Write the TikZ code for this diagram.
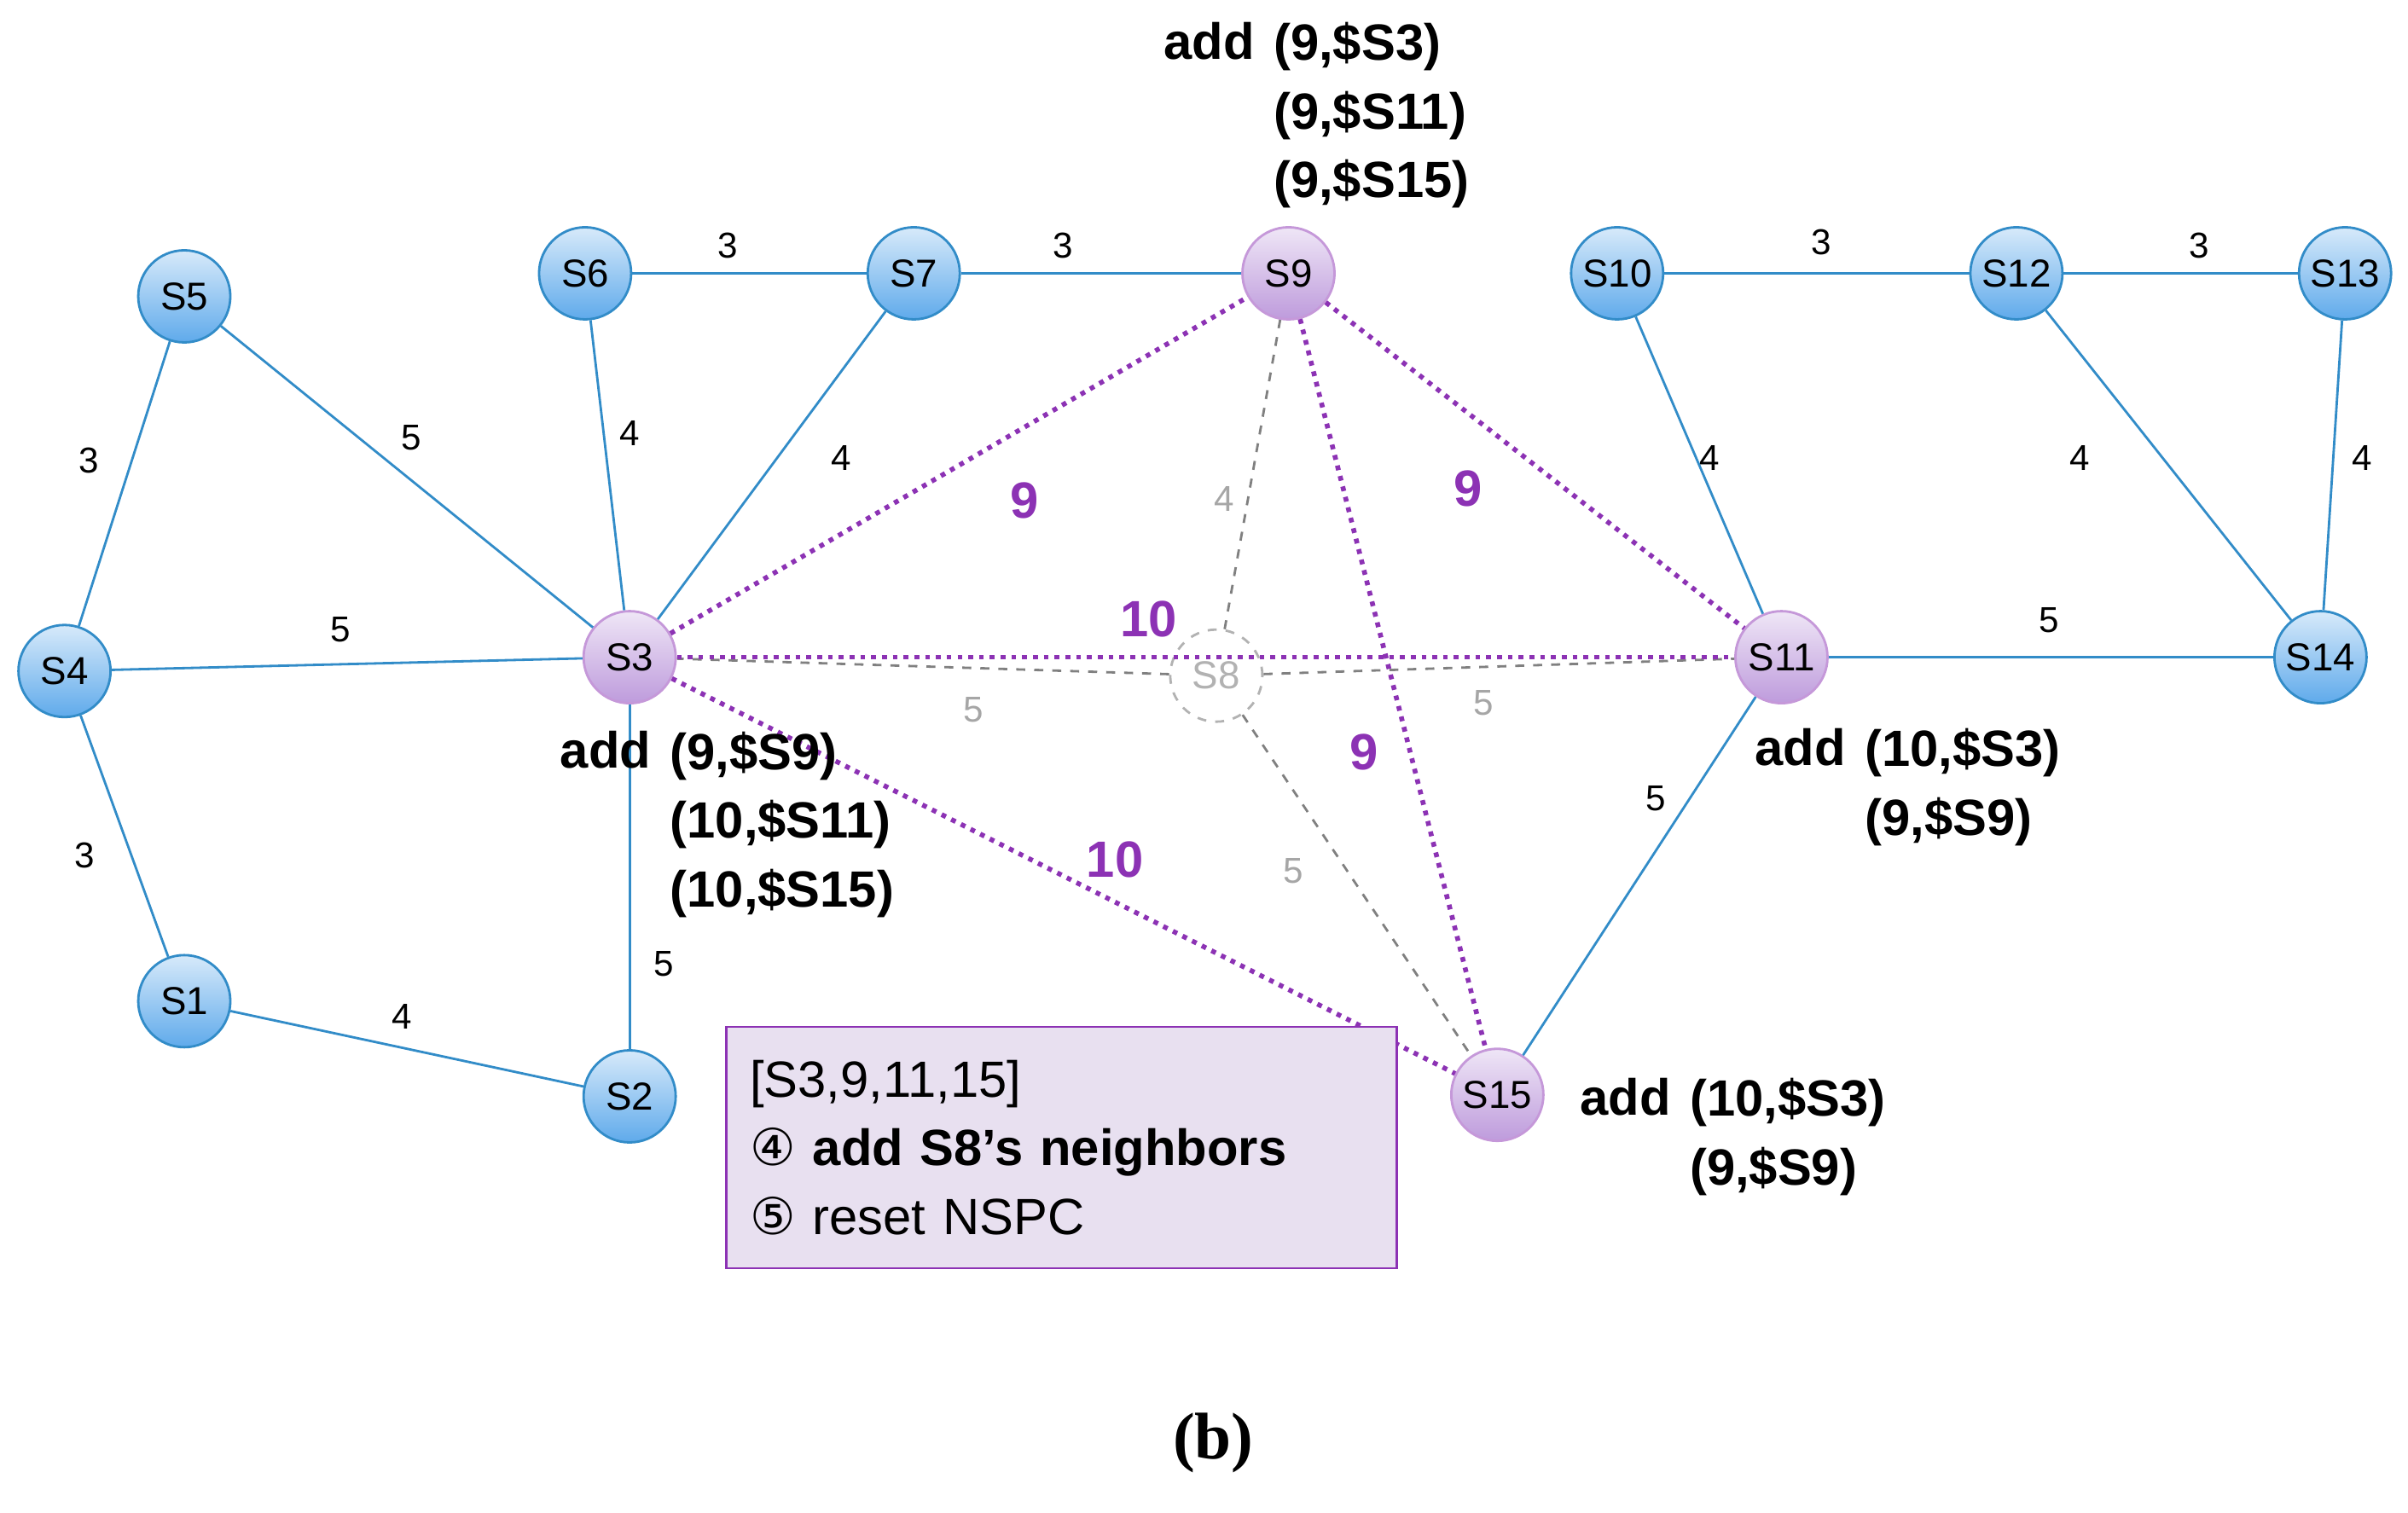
\documentclass[tikz,border=0pt]{standalone}
\usepackage{fontspec}
\setmainfont{Liberation Sans}
\newfontfamily\circfont{DejaVu Sans}
\newfontfamily\capfont{Liberation Serif}
\usetikzlibrary{positioning}
\definecolor{edgeblue}{RGB}{50,140,200}
\definecolor{ballblue}{RGB}{95,170,235}
\definecolor{ballpurple}{RGB}{190,155,220}
\definecolor{pathpurple}{RGB}{140,50,180}
\definecolor{boxfill}{RGB}{232,224,240}
\tikzset{
  site/.style={circle,draw=edgeblue,thick,minimum size=1.08cm,inner sep=0pt,
    top color=ballblue!25,bottom color=ballblue,font=\fontsize{13}{13}\selectfont},
  hub/.style={site,draw=pathpurple!50,top color=ballpurple!25,bottom color=ballpurple},
  gone/.style={circle,draw=gray!60,dashed,thick,minimum size=1.08cm,inner sep=0pt,
    text=gray!60,font=\fontsize{13}{13}\selectfont},
  link/.style={edgeblue,thick},
  stale/.style={gray,dashed,thick},
  route/.style={pathpurple,dotted,line width=1.6pt},
  wt/.style={font=\fontsize{12}{12}\selectfont},
  gwt/.style={wt,text=gray!70},
  pwt/.style={font=\bfseries\fontsize{17}{17}\selectfont,text=pathpurple},
  ann/.style={font=\bfseries\fontsize{17}{23}\selectfont,align=left,inner sep=0pt}
}
\begin{document}
\begin{tikzpicture}[x=0.018cm,y=-0.018cm]
\useasboundingbox (0,0) rectangle (1568,985);

% sites
\node[site] (S5) at (120,193) {S5};
\node[site] (S6) at (381,178) {S6};
\node[site] (S7) at (595,178) {S7};
\node[hub] (S9) at (839,178) {S9};
\node[site] (S10) at (1053,178) {S10};
\node[site] (S12) at (1313,178) {S12};
\node[site] (S13) at (1527,178) {S13};
\node[site] (S4) at (42,437) {S4};
\node[hub] (S3) at (410,428) {S3};
\node[gone] (S8) at (792,440) {S8};
\node[hub] (S11) at (1160,428) {S11};
\node[site] (S14) at (1511,428) {S14};
\node[site] (S1) at (120,652) {S1};
\node[site] (S2) at (410,714) {S2};
\node[hub] (S15) at (975,713) {S15};

% remaining links
\draw[link] (S5) -- (S4);
\draw[link] (S5) -- (S3);
\draw[link] (S6) -- (S3);
\draw[link] (S6) -- (S7);
\draw[link] (S7) -- (S3);
\draw[link] (S7) -- (S9);
\draw[link] (S4) -- (S3);
\draw[link] (S4) -- (S1);
\draw[link] (S1) -- (S2);
\draw[link] (S3) -- (S2);
\draw[link] (S10) -- (S12);
\draw[link] (S12) -- (S13);
\draw[link] (S10) -- (S11);
\draw[link] (S12) -- (S14);
\draw[link] (S13) -- (S14);
\draw[link] (S11) -- (S14);
\draw[link] (S11) -- (S15);

% links of the removed site
\draw[stale] (S8) -- (S9);
\draw[stale] (S8) -- (S3);
\draw[stale] (S8) -- (S11);
\draw[stale] (S8) -- (S15);

% new links
\draw[route] (S3) -- (S9);
\draw[route] (S9) -- (S11);
\draw[route] (S3) -- (S11);
\draw[route] (S9) -- (S15);
\draw[route] (S3) -- (S15);

% weights
\node[wt] (w1) at (58,300) {3};
\node[wt] (w2) at (268,285) {5};
\node[wt] (w3) at (410,282) {4};
\node[wt] (w4) at (474,160) {3};
\node[wt] (w5) at (548,298) {4};
\node[wt] (w6) at (692,160) {3};
\node[wt] (w7) at (222,410) {5};
\node[wt] (w8) at (55,557) {3};
\node[wt] (w9) at (262,662) {4};
\node[wt] (w10) at (432,628) {5};
\node[wt] (w11) at (1186,158) {3};
\node[wt] (w12) at (1432,160) {3};
\node[wt] (w13) at (1113,298) {4};
\node[wt] (w14) at (1354,298) {4};
\node[wt] (w15) at (1538,298) {4};
\node[wt] (w16) at (1334,404) {5};
\node[wt] (w17) at (1078,520) {5};
\node[gwt] (g1) at (797,325) {4};
\node[gwt] (g2) at (634,462) {5};
\node[gwt] (g3) at (966,458) {5};
\node[gwt] (g4) at (842,567) {5};
\node[pwt] (p1) at (667,326) {9};
\node[pwt] (p2) at (956,318) {9};
\node[pwt] (p3) at (748,403) {10};
\node[pwt] (p4) at (888,490) {9};
\node[pwt] (p5) at (726,560) {10};

% annotations
\node[ann,anchor=north west] (a9) at (829,14) {(9,\$S3)\\(9,\$S11)\\(9,\$S15)};
\node[ann,anchor=north east] at ([xshift=-6pt]a9.north west) {add};
\node[ann,anchor=north west] (a3) at (436,476) {(9,\$S9)\\(10,\$S11)\\(10,\$S15)};
\node[ann,anchor=north east] at ([xshift=-6pt]a3.north west) {add};
\node[ann,anchor=north west] (a11) at (1214,474) {(10,\$S3)\\(9,\$S9)};
\node[ann,anchor=north east] at ([xshift=-6pt]a11.north west) {add};
\node[ann,anchor=north west] (a15) at (1100,702) {(10,\$S3)\\(9,\$S9)};
\node[ann,anchor=north east] at ([xshift=-6pt]a15.north west) {add};

% step box
\node[draw=pathpurple,thick,fill=boxfill,anchor=north west,minimum width=7.85cm,
  minimum height=2.83cm,align=left,inner xsep=8pt,text width=7.3cm,
  font=\fontsize{17}{23}\selectfont] (box) at (472,668)
  {[S3,9,11,15]\\{\circfont ④} \textbf{add S8’s neighbors}\\{\circfont ⑤} reset NSPC};

\node[font=\capfont\bfseries\fontsize{22}{22}\selectfont] (cap) at (790,940) {(b)};
\end{tikzpicture}
\end{document}
